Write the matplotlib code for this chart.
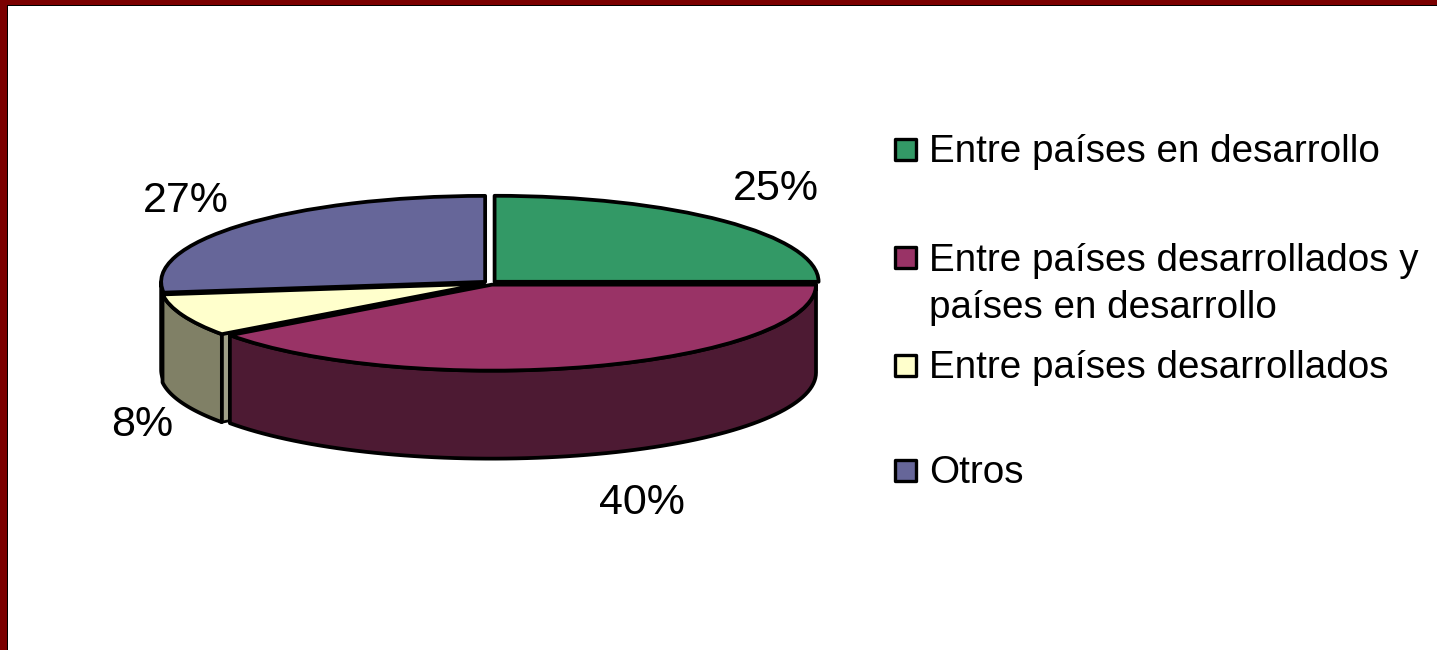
import numpy as np
import matplotlib
matplotlib.use('Agg')
import matplotlib.pyplot as plt
from matplotlib.patches import Rectangle

plt.rcParams['font.family'] = ['Liberation Sans', 'DejaVu Sans']

# Datos del grafico
categorias = ['Entre países en desarrollo',
              'Entre países desarrollados y\npaíses en desarrollo',
              'Entre países desarrollados',
              'Otros']
valores = [25, 40, 8, 27]
etiquetas = ['25%', '40%', '8%', '27%']
colores = ['#339966', '#993366', '#FFFFCC', '#666699']
colores_lado = ['#1a4d33', '#4d1a33', '#808066', '#333350']
separacion = [0.02, 0.02, 0.02, 0.02]

# Geometria en pixeles de la imagen
W, H = 1437, 650
cx, cy = 490, 283
rx, ry = 324, 86
prof = 88

fig = plt.figure(figsize=(W / 100, H / 100), dpi=100, facecolor='white')

# Ejes de la torta: una unidad es el radio, asi el circulo queda como elipse
ax = fig.add_axes([0, 0, 1, 1])
wedges, _ = ax.pie(valores, colors=colores, startangle=90, counterclock=False,
                   explode=separacion,
                   wedgeprops={'edgecolor': 'black', 'linewidth': 2.7})
ax.set_aspect('auto')
ax.set_xlim(-cx / rx, (W - cx) / rx)
ax.set_ylim((cy - H) / ry, cy / ry)
alto = prof / ry

# Angulos de cada porcion (sentido horario desde arriba)
fin = 90 - 3.6 * np.cumsum(valores)
inicio = fin + 3.6 * np.array(valores)
medio = np.radians((inicio + fin) / 2)
dx = np.array(separacion) * np.cos(medio)
dy = np.array(separacion) * np.sin(medio)

orden_z = {0: 2, 3: 2, 2: 6, 1: 9}
for i, w in enumerate(wedges):
    w.set_zorder(orden_z[i] + 1)
    w.set_joinstyle('round')

    # Lado visible: solo la parte del borde que mira hacia abajo
    a1 = max(fin[i], -180)
    a2 = min(inicio[i], 0)
    if a2 <= a1:
        continue
    t = np.radians(np.linspace(a2, a1, 80))
    x = np.cos(t) + dx[i]
    y = np.sin(t) + dy[i]
    ax.fill(np.r_[x, x[::-1]], np.r_[y, y[::-1] - alto], facecolor=colores_lado[i],
            edgecolor='black', linewidth=2.7, joinstyle='round', zorder=orden_z[i])

# Cara de corte de la porcion amarilla, se ve junto a la porcion grande
t = np.radians(inicio[2])
xb, yb = np.cos(t) + dx[2], np.sin(t) + dy[2]
ax.fill([xb, dx[2], dx[2], xb], [yb, dy[2], dy[2] - alto, yb - alto],
        facecolor='#a0a088', edgecolor='black', linewidth=2.0, zorder=5)

# Ejes en pixeles para marco, etiquetas y leyenda
px = fig.add_axes([0, 0, 1, 1], facecolor='none')
px.set_xlim(0, W)
px.set_ylim(H, 0)
px.axis('off')

# Marco rojo oscuro arriba y a la izquierda
px.add_patch(Rectangle((6, 4), W, 2, facecolor='black', edgecolor='none'))
px.add_patch(Rectangle((6, 4), 2, H, facecolor='black', edgecolor='none'))
px.add_patch(Rectangle((0, 0), W, 5, facecolor='#7B0000', edgecolor='none'))
px.add_patch(Rectangle((0, 0), 6.5, H, facecolor='#7B0000', edgecolor='none'))

# Etiquetas de porcentaje
pos_etiquetas = [(776, 189), (642, 503), (142, 425), (186, 201)]
for texto, (x, y) in zip(etiquetas, pos_etiquetas):
    px.text(x, y, texto, fontsize=31, ha='center', va='center', color='black')

# Leyenda manual: el espacio entre entradas no es uniforme
pos_cuadros = [149.5, 257, 365, 470]
pos_textos = [162, 271, 378, 483]
for i, nombre in enumerate(categorias):
    px.add_patch(Rectangle((895, pos_cuadros[i] - 10.5), 21, 21, facecolor=colores[i],
                           edgecolor='black', linewidth=2.4, joinstyle='round'))
    lineas = nombre.split('\n')
    for j, linea in enumerate(lineas):
        px.text(929, pos_textos[i] + 47 * j, linea, fontsize=27.8, ha='left',
                va='baseline', color='black')

fig.savefig('out.png', dpi=100, facecolor='white')
